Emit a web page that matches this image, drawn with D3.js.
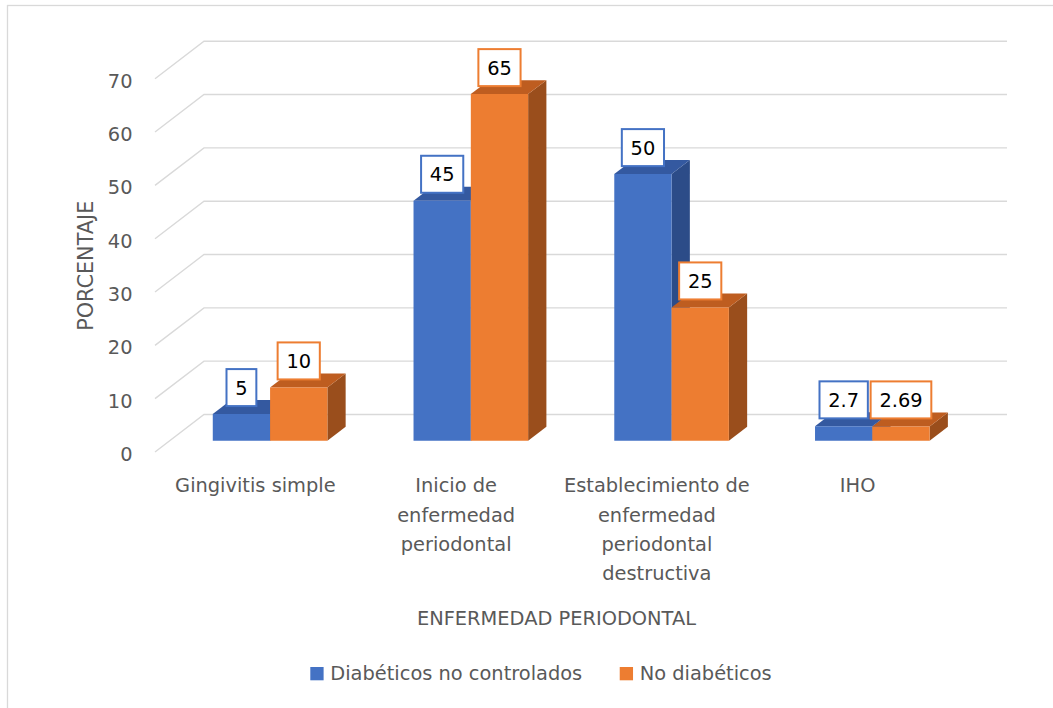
<!DOCTYPE html>
<html>
<head>
<meta charset="utf-8">
<script src="https://cdn.jsdelivr.net/npm/d3@7"></script>
<style>
  html, body { margin: 0; padding: 0; background: #ffffff; }
  svg { display: block; }
  text { font-family: "DejaVu Sans", "Open Sans", sans-serif; }
</style>
</head>
<body>
<script>
// ---------------- data ----------------
const categories = [
  "Gingivitis simple",
  "Inicio de\nenfermedad\nperiodontal",
  "Establecimiento de\nenfermedad\nperiodontal\ndestructiva",
  "IHO"
];
const seriesNames = ["Diabéticos no controlados", "No diabéticos"];
const diabeticosNoControlados = [5, 45, 50, 2.7];
const noDiabeticos = [10, 65, 25, 2.69];
const yTicks = [0, 10, 20, 30, 40, 50, 60, 70];
const yTitle = "PORCENTAJE";
const xTitle = "ENFERMEDAD PERIODONTAL";

// ---------------- styles / layout ----------------
const W = 1053, H = 708;
const colors = {
  front: ["#4472C4", "#ED7D31"],
  top:   ["#3459A0", "#BE5D20"],
  side:  ["#2C4C88", "#9A4E1C"]
};
const textColor = "#595959";
const gridColor = "#D9D9D9";
const fontSize = 19.4;

const floorX0 = 155, floorX1 = 958, floorY = 452;
const depthDX = 49, depthDY = -37.5;
const barDepthFront = 0.3, barDepthBack = 0.673;
const groupHalf = 57.3;

const svg = d3.select("body").append("svg")
  .attr("width", W).attr("height", H);

svg.append("rect").attr("width", W).attr("height", H).attr("fill", "#fff");
svg.append("rect")
  .attr("x", 7.5).attr("y", 5.5).attr("width", W + 20).attr("height", H + 20)
  .attr("fill", "none").attr("stroke", gridColor).attr("stroke-width", 1.3);

const y = d3.scaleLinear().domain([0, 70]).range([floorY, floorY - 373.3]);
const x = d3.scaleBand().domain(categories).range([floorX0, floorX1]).padding(0);
const s = d3.scaleBand().domain(seriesNames).range([-groupHalf, groupHalf]).padding(0);

function project(px, v, d) {
  return [px + d * depthDX, y(v) + d * depthDY];
}
const line = d3.line();

// gridlines (side wall + back wall)
svg.append("g").selectAll("path").data(yTicks).join("path")
  .attr("d", t => line([project(floorX0, t, 0), project(floorX0, t, 1), project(floorX1, t, 1)]))
  .attr("fill", "none").attr("stroke", gridColor).attr("stroke-width", 1.4);

// y tick labels
svg.append("g").selectAll("text").data(yTicks).join("text")
  .attr("x", 132.5).attr("y", t => y(t) + 9)
  .attr("text-anchor", "end").attr("fill", textColor)
  .attr("font-size", fontSize).text(t => t);

// bars
const seriesValues = [diabeticosNoControlados, noDiabeticos];
const barsG = svg.append("g");
const labelData = [];
categories.forEach((c, ci) => {
  seriesNames.forEach((sn, si) => {
    const v = seriesValues[si][ci];
    const cx = x(c) + x.bandwidth() / 2;
    const xl = cx + s(sn), xr = xl + s.bandwidth();
    const df = barDepthFront, db = barDepthBack;
    const side = [project(xr, 0, df), project(xr, 0, db), project(xr, v, db), project(xr, v, df)];
    const top = [project(xl, v, df), project(xr, v, df), project(xr, v, db), project(xl, v, db)];
    const front = [project(xl, 0, df), project(xr, 0, df), project(xr, v, df), project(xl, v, df)];
    const g = barsG.append("g");
    g.append("path").attr("d", line(side) + "Z").attr("fill", colors.side[si]);
    g.append("path").attr("d", line(top) + "Z").attr("fill", colors.top[si]);
    g.append("path").attr("d", line(front) + "Z").attr("fill", colors.front[si]);
    const p = project((xl + xr) / 2, v, df);
    labelData.push({ v, si, cx: p[0], cy: p[1] - 26.5 });
  });
});

// data labels
const labG = svg.append("g");
labelData.forEach(d => {
  const g = labG.append("g");
  const t = g.append("text")
    .attr("x", d.cx).attr("y", d.cy + 7)
    .attr("text-anchor", "middle").attr("fill", "#000")
    .attr("font-size", fontSize).text(d.v);
  const w = t.node().getComputedTextLength() + 17.5;
  g.insert("rect", "text")
    .attr("x", d.cx - w / 2).attr("y", d.cy - 18.5)
    .attr("width", w).attr("height", 37)
    .attr("fill", "#fff").attr("stroke", colors.front[d.si]).attr("stroke-width", 2);
});

// category labels
svg.append("g").selectAll("text").data(categories).join("text")
  .attr("x", c => x(c) + x.bandwidth() / 2)
  .attr("y", 492.3)
  .attr("text-anchor", "middle").attr("fill", textColor)
  .attr("font-size", fontSize)
  .each(function(c) {
    const lines = c.split("\n");
    d3.select(this).selectAll("tspan").data(lines).join("tspan")
      .attr("x", x(c) + x.bandwidth() / 2)
      .attr("dy", (l, i) => i === 0 ? 0 : 29.3)
      .text(l => l);
  });

// axis titles
svg.append("text")
  .attr("x", (floorX0 + floorX1) / 2).attr("y", 625)
  .attr("text-anchor", "middle").attr("fill", textColor)
  .attr("font-size", fontSize).text(xTitle);

svg.append("text")
  .attr("transform", "translate(93,265.8) rotate(-90)")
  .attr("text-anchor", "middle").attr("fill", textColor)
  .attr("font-size", 20.8).text(yTitle);

// legend
const legG = svg.append("g");
const items = seriesNames.map((n, i) => {
  const g = legG.append("g");
  g.append("rect").attr("width", 13.3).attr("height", 13.3).attr("fill", colors.front[i]);
  const t = g.append("text").attr("x", 20).attr("y", 13.3).attr("fill", textColor)
    .attr("font-size", fontSize).text(n);
  return { g, w: 20 + t.node().getComputedTextLength() };
});
const gap = 37.5;
const total = d3.sum(items, d => d.w) + gap * (items.length - 1);
let lx = 541 - total / 2;
items.forEach(it => {
  it.g.attr("transform", `translate(${lx},667)`);
  lx += it.w + gap;
});
</script>
</body>
</html>
